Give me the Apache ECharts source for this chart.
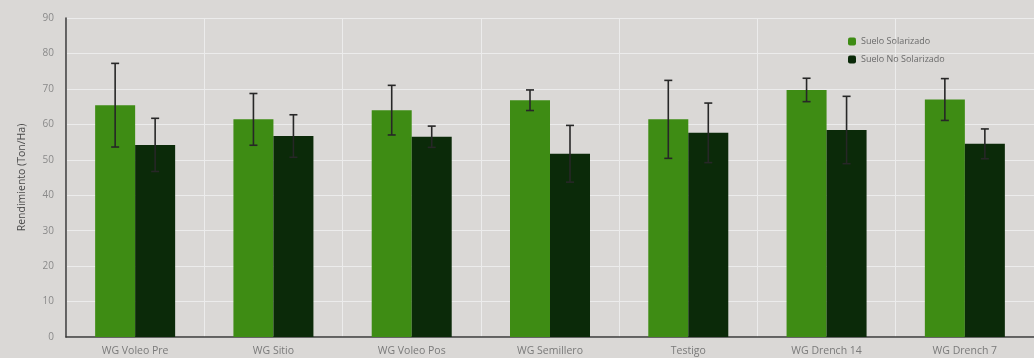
<!DOCTYPE html>
<html>
<head>
<meta charset="utf-8">
<script src="https://cdn.jsdelivr.net/npm/echarts@6/dist/echarts.min.js"></script>
<style>
html,body{margin:0;padding:0;background:#dad8d6;}
#c{width:1034px;height:358px;}
</style>
</head>
<body>
<div id="c"></div>
<script>
const categories = ["WG Voleo Pre", "WG Sitio", "WG Voleo Pos", "WG Semillero", "Testigo", "WG Drench 14", "WG Drench 7"];
const seriesNames = ["Suelo Solarizado", "Suelo No Solarizado"];
const solarizado = [65.4, 61.4, 64.0, 66.8, 61.4, 69.7, 67.0];
const solarizadoErr = [11.8, 7.3, 7.0, 2.9, 11.0, 3.3, 5.9];
const noSolarizado = [54.2, 56.7, 56.5, 51.7, 57.6, 58.4, 54.5];
const noSolarizadoErr = [7.5, 6.0, 3.0, 8.0, 8.4, 9.5, 4.2];
const yTicks = [0, 10, 20, 30, 40, 50, 60, 70, 80, 90];

const colors = ["#3e8c14", "#0b2a09"];
const BAR_W = 40;

function errSeries(means, errs, side) {
  return {
    type: 'custom',
    silent: true,
    z: 10,
    data: means.map((m, i) => [i, m, errs[i]]),
    renderItem: function (params, api) {
      const idx = api.value(0);
      const m = api.value(1);
      const e = api.value(2);
      const top = api.coord([idx, m + e]);
      const bot = api.coord([idx, m - e]);
      const x = top[0] + side * BAR_W / 2;
      const cap = 4;
      const st = { stroke: '#272727', lineWidth: 1.6 };
      return {
        type: 'group',
        children: [
          { type: 'line', shape: { x1: x, y1: top[1], x2: x, y2: bot[1] }, style: st },
          { type: 'line', shape: { x1: x - cap, y1: top[1], x2: x + cap, y2: top[1] }, style: st },
          { type: 'line', shape: { x1: x - cap, y1: bot[1], x2: x + cap, y2: bot[1] }, style: st }
        ]
      };
    }
  };
}

const chart = echarts.init(document.getElementById('c'));
chart.setOption({
  backgroundColor: '#dad8d6',
  animation: false,
  grid: { left: 66, right: 0, top: 18, bottom: 21 },
  legend: {
    data: seriesNames,
    orient: 'vertical',
    left: 843,
    top: 32,
    itemWidth: 8,
    itemHeight: 8,
    itemGap: 9,
    textStyle: { fontSize: 9, color: '#6a6a6a', fontFamily: 'Open Sans' }
  },
  xAxis: {
    type: 'category',
    data: categories,
    axisLine: { lineStyle: { color: '#3a3a3a', width: 1.5 } },
    axisTick: { show: false },
    axisLabel: { fontSize: 10.5, color: '#7a7a7a', margin: 9, fontFamily: 'Open Sans' },
    splitLine: { show: true, lineStyle: { color: '#ececec', width: 1 } }
  },
  yAxis: {
    type: 'value',
    min: yTicks[0],
    max: yTicks[yTicks.length - 1],
    interval: 10,
    name: 'Rendimiento (Ton/Ha)',
    nameLocation: 'middle',
    nameGap: 38,
    nameTextStyle: { fontSize: 10.5, color: '#4a4a4a', fontFamily: 'Open Sans' },
    axisLine: { show: true, lineStyle: { color: '#3a3a3a', width: 1.5 } },
    axisTick: { show: false },
    axisLabel: { fontSize: 10, color: '#8a8a8a', margin: 12, fontFamily: 'Open Sans' },
    splitLine: { lineStyle: { color: '#ececec', width: 1 } }
  },
  series: [
    {
      name: seriesNames[0], type: 'bar', data: solarizado, barWidth: BAR_W, barGap: '0%',
      itemStyle: { color: colors[0] }
    },
    {
      name: seriesNames[1], type: 'bar', data: noSolarizado, barWidth: BAR_W, barGap: '0%',
      itemStyle: { color: colors[1] }
    },
    errSeries(solarizado, solarizadoErr, -1),
    errSeries(noSolarizado, noSolarizadoErr, 1)
  ]
});
</script>
</body>
</html>
